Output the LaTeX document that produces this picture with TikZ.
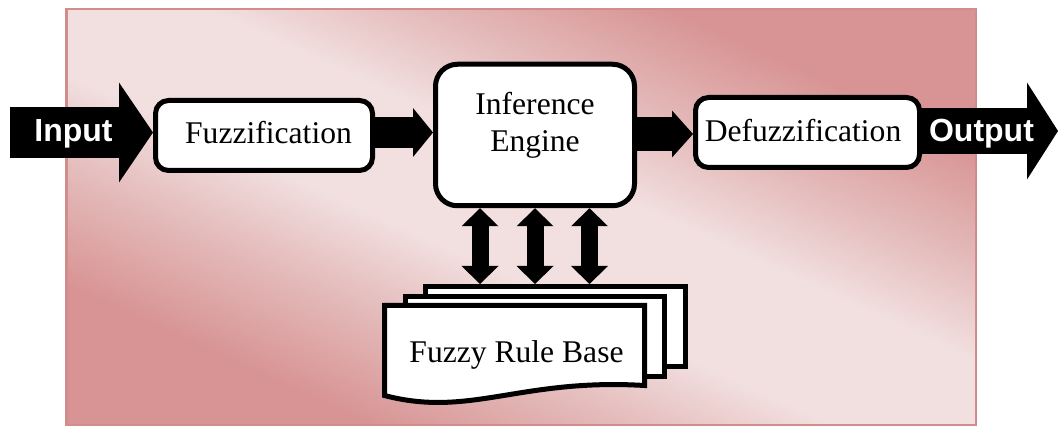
\documentclass[tikz,border=0pt]{standalone}
\usepackage{fontspec}
\setmainfont{Liberation Serif}
\setsansfont{Liberation Sans}
\usetikzlibrary{arrows.meta,calc}
\definecolor{bgdark}{RGB}{216,148,148}
\definecolor{bgmid}{RGB}{228,186,186}
\definecolor{bglight}{RGB}{242,224,224}
\definecolor{bgedge}{RGB}{210,140,140}
\definecolor{bgshadow}{RGB}{198,138,138}
% panel fill: dark in two opposite corners, a broad light band between
\pgfdeclareverticalshading{panelfill}{100bp}{color(0bp)=(bgdark); color(28bp)=(bgdark);
  color(37bp)=(bgmid); color(45bp)=(bglight); color(55bp)=(bglight);
  color(63bp)=(bgmid); color(72bp)=(bgdark); color(100bp)=(bgdark)}
\begin{document}
\begin{tikzpicture}[x=1pt,y=-1pt,
  stage/.style={draw=black, line width=5pt, fill=white, inner sep=0pt},
  sheet/.style={draw=black, line width=5pt, fill=white},
  label/.style={inner sep=0pt, font=\fontsize{31.6}{37}\selectfont, align=center},
  io/.style={inner sep=0pt, text=white, font=\sffamily\bfseries\fontsize{32}{37}\selectfont},
  flow/.style={draw=black, line width=#1},
]
\useasboundingbox (0,0) rectangle (1059,427);

% shaded panel behind the pipeline
\shade[shading=panelfill, shading angle=-24.6]
  (66.25,9.25) rectangle (975.75,424.75);
\draw[bgedge, line width=2.5pt] (66.25,9.25) rectangle (975.75,424.75);
\draw[bgshadow, line width=1.5pt] (976.5,10) -- (976.5,425.5);

% stage boxes
\node[stage, rounded corners=13pt, minimum width=217pt, minimum height=70pt] (fuzz) at (264,135.5) {};
\node[label, anchor=base] (fuzztext) at (268.5,143.5) {Fuzzification};
\node[stage, rounded corners=22pt, minimum width=199pt, minimum height=141.5pt] (inf) at (535,135) {};
\node[label] (inftext) at (535,125) {Inference\\Engine};

% output arrow runs behind the defuzzification box
\coordinate (outy) at (0,131);
\coordinate (outtip) at (1058,131);
\draw[flow=46pt, -{Triangle[length=31pt,width=97pt,line width=0pt]}] (807,131) -- (outtip);
\node[stage, rounded corners=13pt, minimum width=224pt, minimum height=70pt] (defuzz) at (807.5,132.5) {};
\node[label, anchor=base] (defuzztext) at (803,141.5) {Defuzzification};

% input arrow
\coordinate (inL) at (10,132.5);
\draw[flow=51pt, -{Triangle[length=34pt,width=100pt,line width=0pt]}] (inL) -- (inL -| fuzz.west);
\node[io, anchor=base] (intext) at (73.5,141.5) {Input};
\node[io, anchor=base] (outtext) at (981.5,141.5) {Output};

% arrows between stages
\coordinate (ay) at (0,132.5);
\draw[flow=31pt, -{Triangle[length=20pt,width=49pt,line width=0pt]}] (fuzz.east |- ay) -- (inf.west |- ay);
\coordinate (by) at (0,134);
\draw[flow=34pt, -{Triangle[length=21pt,width=47pt,line width=0pt]}] (inf.east |- by) -- (defuzz.west |- by);

% stacked rule sheets
\node[sheet, minimum width=260pt, minimum height=80pt, inner sep=0pt] (back) at (555.5,326.5) {};
\node[sheet, minimum width=259pt, minimum height=80pt, inner sep=0pt] (middle) at (535,336.5) {};
\draw[sheet] (384.5,305.5) -- (644.5,305.5) -- (644.5,385.5)
  .. controls (520,378) and (470,418) .. (384.5,395.5) -- cycle;
\node[label, anchor=base] (rules) at (516.5,362) {Fuzzy Rule Base};

% two-way links between the engine and the rule base
\foreach \dx [count=\i] in {-55,0,54.5} {
  \coordinate (r\i) at ($(inf.south)+(\dx,0)$);
  \draw[flow=17pt, {Triangle[length=18pt,width=37pt,line width=0pt]}-{Triangle[length=18pt,width=37pt,line width=0pt]}]
    (r\i) -- (r\i |- back.north);
}
\end{tikzpicture}
\end{document}
